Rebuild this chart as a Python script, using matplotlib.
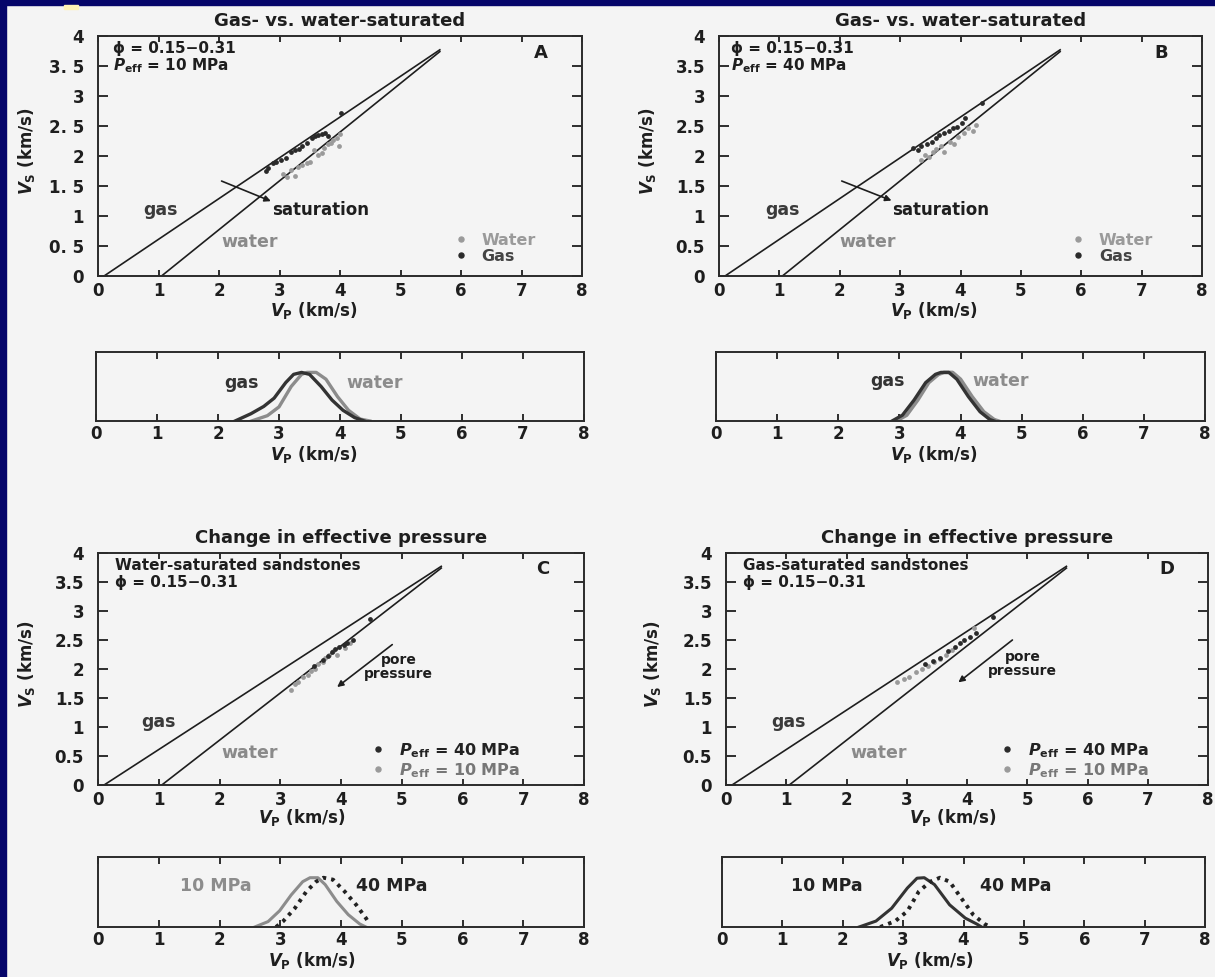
import matplotlib
matplotlib.use("Agg")
import matplotlib.pyplot as plt
from matplotlib.lines import Line2D
from matplotlib.patches import Rectangle

plt.rcParams['font.family'] = ['DejaVu Sans']
plt.rcParams['font.weight'] = 'bold'
plt.rcParams['axes.labelweight'] = 'bold'
plt.rcParams['axes.titleweight'] = 'bold'
plt.rcParams['mathtext.fontset'] = 'custom'
plt.rcParams['mathtext.rm'] = 'DejaVu Sans:bold'
plt.rcParams['mathtext.it'] = 'DejaVu Sans:italic:bold'
plt.rcParams['mathtext.bf'] = 'DejaVu Sans:bold'

# ---------------- data ----------------
vp_ticks = [0, 1, 2, 3, 4, 5, 6, 7, 8]
vs_ticks = [0, 0.5, 1, 1.5, 2, 2.5, 3, 3.5, 4]
vs_ticklabels_spaced = ["0", "0. 5", "1", "1. 5", "2", "2. 5", "3", "3. 5", "4"]
vs_ticklabels = ["0", "0.5", "1", "1.5", "2", "2.5", "3", "3.5", "4"]

# Vp-Vs trend lines (km/s)
trend_gas_vp = [0.10, 5.65]
trend_gas_vs = [0.00, 3.77]
trend_water_vp = [1.05, 5.65]
trend_water_vs = [0.00, 3.74]

# Panel A: Peff = 10 MPa
a_water_vp = [3.05, 3.12, 3.19, 3.25, 3.30, 3.38, 3.45, 3.50, 3.57, 3.63, 3.70, 3.73, 3.80, 3.85, 3.89, 3.95, 3.98, 4.00]
a_water_vs = [1.70, 1.65, 1.77, 1.66, 1.82, 1.85, 1.88, 1.90, 2.10, 2.02, 2.05, 2.13, 2.20, 2.22, 2.27, 2.30, 2.16, 2.36]
a_gas_vp = [2.78, 2.81, 2.90, 2.95, 3.03, 3.10, 3.19, 3.25, 3.32, 3.38, 3.45, 3.54, 3.58, 3.63, 3.70, 3.76, 3.80, 4.01]
a_gas_vs = [1.75, 1.80, 1.88, 1.90, 1.93, 1.97, 2.07, 2.10, 2.12, 2.16, 2.22, 2.30, 2.33, 2.35, 2.36, 2.38, 2.33, 2.71]

# Panel B: Peff = 40 MPa
b_water_vp = [3.35, 3.41, 3.47, 3.54, 3.60, 3.67, 3.73, 3.83, 3.90, 3.96, 4.05, 4.12, 4.20, 4.25]
b_water_vs = [1.93, 2.02, 1.98, 2.07, 2.12, 2.16, 2.07, 2.24, 2.20, 2.32, 2.38, 2.46, 2.42, 2.52]
b_gas_vp = [3.22, 3.30, 3.35, 3.45, 3.52, 3.60, 3.65, 3.72, 3.81, 3.88, 3.94, 4.02, 4.07, 4.36]
b_gas_vs = [2.13, 2.10, 2.16, 2.20, 2.24, 2.30, 2.35, 2.38, 2.41, 2.46, 2.49, 2.55, 2.63, 2.88]

# Panel C: water-saturated sandstones
c_p40_vp = [3.55, 3.70, 3.78, 3.85, 3.90, 3.97, 4.05, 4.10, 4.19, 4.47]
c_p40_vs = [2.05, 2.15, 2.22, 2.30, 2.34, 2.38, 2.42, 2.45, 2.50, 2.87]
c_p10_vp = [3.18, 3.24, 3.30, 3.37, 3.45, 3.50, 3.58, 3.62, 3.70, 3.74, 3.80, 3.87, 3.93, 4.06, 4.15]
c_p10_vs = [1.63, 1.74, 1.78, 1.86, 1.90, 1.97, 2.00, 2.08, 2.12, 2.19, 2.25, 2.31, 2.25, 2.36, 2.45]

# Panel D: gas-saturated sandstones
d_p40_vp = [3.30, 3.43, 3.56, 3.69, 3.80, 3.88, 3.95, 4.05, 4.15, 4.43]
d_p40_vs = [2.08, 2.14, 2.19, 2.31, 2.38, 2.45, 2.50, 2.55, 2.62, 2.90]
d_p10_vp = [2.84, 2.95, 3.04, 3.15, 3.25, 3.36, 3.45, 3.55, 3.65, 3.75, 4.11]
d_p10_vs = [1.77, 1.82, 1.86, 1.94, 2.00, 2.06, 2.12, 2.18, 2.25, 2.32, 2.70]

# Vp probability densities (relative frequency)
pdf_a_gas_vp = [2.28, 2.54, 2.75, 2.92, 3.11, 3.24, 3.37, 3.50, 3.69, 3.87, 4.05, 4.24, 4.40]
pdf_a_gas_f = [0.00, 0.15, 0.30, 0.47, 0.79, 0.96, 1.00, 0.96, 0.71, 0.43, 0.22, 0.07, 0.00]
pdf_a_water_vp = [2.55, 2.81, 3.00, 3.20, 3.37, 3.46, 3.61, 3.77, 3.96, 4.14, 4.33, 4.49]
pdf_a_water_f = [0.00, 0.11, 0.29, 0.71, 0.96, 1.00, 1.00, 0.86, 0.50, 0.22, 0.04, 0.00]

pdf_b_gas_vp = [2.88, 3.05, 3.24, 3.43, 3.59, 3.68, 3.81, 3.94, 4.13, 4.32, 4.48, 4.55]
pdf_b_gas_f = [0.00, 0.12, 0.43, 0.79, 0.96, 1.00, 1.00, 0.86, 0.50, 0.19, 0.03, 0.00]
pdf_b_water_vp = [2.95, 3.12, 3.30, 3.48, 3.64, 3.73, 3.87, 4.00, 4.19, 4.38, 4.55, 4.62]
pdf_b_water_f = [0.00, 0.12, 0.43, 0.79, 0.96, 1.00, 1.00, 0.86, 0.50, 0.19, 0.03, 0.00]

pdf_c_p10_vp = [2.58, 2.80, 2.99, 3.18, 3.37, 3.49, 3.62, 3.74, 3.93, 4.12, 4.31, 4.41]
pdf_c_p10_f = [0.00, 0.11, 0.33, 0.65, 0.92, 1.00, 1.00, 0.86, 0.52, 0.25, 0.06, 0.00]
pdf_c_p40_vp = [2.93, 3.05, 3.24, 3.43, 3.59, 3.71, 3.87, 4.06, 4.25, 4.41, 4.47]
pdf_c_p40_f = [0.00, 0.12, 0.38, 0.72, 0.92, 1.00, 0.96, 0.72, 0.45, 0.18, 0.06]

pdf_d_p10_vp = [2.27, 2.55, 2.81, 3.07, 3.23, 3.35, 3.52, 3.77, 4.03, 4.22, 4.30]
pdf_d_p10_f = [0.00, 0.12, 0.38, 0.79, 0.99, 1.00, 0.86, 0.45, 0.18, 0.06, 0.00]
pdf_d_p40_vp = [2.62, 2.87, 3.07, 3.26, 3.45, 3.61, 3.77, 3.96, 4.16, 4.35, 4.45]
pdf_d_p40_f = [0.00, 0.12, 0.32, 0.72, 0.92, 1.00, 0.92, 0.59, 0.25, 0.06, 0.00]

# ---------------- styling ----------------
W, H = 1215, 977
ink = '#1e1e1e'
dark = '#2a2a2a'
light = '#9a9a9a'

fig = plt.figure(figsize=(W / 100, H / 100), dpi=100, facecolor='#f4f4f4')

# slide frame
fig.patches.append(Rectangle((0, 0), 6 / W, 1, transform=fig.transFigure, color='#05056a', zorder=10))
fig.patches.append(Rectangle((0, 1 - 5 / H), 1, 5 / H, transform=fig.transFigure, color='#05056a', zorder=10))
fig.patches.append(Rectangle((64 / W, 1 - 9 / H), 14 / W, 4 / H, transform=fig.transFigure, color='#fff3b5', zorder=11))


def px_axes(left, top, right, bottom):
    return fig.add_axes([left / W, 1 - bottom / H, (right - left) / W, (bottom - top) / H])


def style_spines(ax):
    for s in ax.spines.values():
        s.set_linewidth(1.4)
        s.set_color('#2b2b2b')


def main_panel(rect, title, ylabels, letter, xlab_x, xlab_y, ylab_x):
    ax = px_axes(*rect)
    ax.set_facecolor('none')
    ax.set_xlim(0, 8)
    ax.set_ylim(0, 4)
    ax.set_xticks(vp_ticks)
    ax.set_yticks(vs_ticks)
    ax.set_yticklabels(ylabels)
    ax.tick_params(axis='both', direction='in', top=True, right=True, colors=ink,
                   labelsize=12, width=1.3)
    ax.tick_params(axis='x', length=4.5, pad=4)
    ax.tick_params(axis='y', length=7.5, pad=10)
    style_spines(ax)
    ax.set_title(title, fontsize=13, fontweight='bold', pad=7, color=ink)
    ax.set_xlabel(r'$V_{\rm P}$ (km/s)', fontsize=12, fontweight='bold', color=ink)
    ax.xaxis.set_label_coords(xlab_x, xlab_y)
    ax.set_ylabel(r'$V_{\rm S}$ (km/s)', fontsize=12, fontweight='bold', color=ink)
    ax.yaxis.set_label_coords(ylab_x, 0.52)
    ax.plot(trend_gas_vp, trend_gas_vs, color=ink, lw=1.2, zorder=2)
    ax.plot(trend_water_vp, trend_water_vs, color=ink, lw=1.2, zorder=2)
    ax.text(7.32, 3.72, letter, ha='center', va='center', fontsize=13, color=ink)
    return ax


def dot_legend(ax, labels, colors, text_colors, x_frac, y_frac):
    handles = [Line2D([], [], ls='', marker='o', ms=3.6, color=c) for c in colors]
    leg = ax.legend(handles, labels, loc='center left', bbox_to_anchor=(x_frac, y_frac),
                    frameon=False, fontsize=11.5, handlelength=1.0, handletextpad=0.8,
                    borderpad=0, borderaxespad=0, labelspacing=0.08)
    for t, c in zip(leg.get_texts(), text_colors):
        t.set_color(c)
        t.set_fontweight('bold')
    return leg


def pdf_panel(rect, xlab_x, xlab_y):
    ax = px_axes(*rect)
    ax.set_facecolor('none')
    ax.set_xlim(0, 8)
    ax.set_ylim(0, 1.42)
    ax.set_xticks(vp_ticks)
    ax.set_yticks([])
    ax.tick_params(axis='x', direction='in', top=True, length=5, width=1.3, pad=3,
                   labelsize=12, colors=ink)
    style_spines(ax)
    ax.set_xlabel(r'$V_{\rm P}$ (km/s)', fontsize=12, fontweight='bold', color=ink)
    ax.xaxis.set_label_coords(xlab_x, xlab_y)
    return ax


dotted = (0, (0.9, 1.3))

# ---------------- Panel A ----------------
ax = main_panel((98, 36, 582, 276), 'Gas- vs. water-saturated', vs_ticklabels_spaced, 'A',
                0.445, -0.10, -0.126)
ax.scatter(a_water_vp, a_water_vs, s=12, color=light, zorder=3, linewidths=0)
ax.scatter(a_gas_vp, a_gas_vs, s=12, color=dark, zorder=4, linewidths=0)
ax.text(0.25, 3.80, 'ϕ = 0.15−0.31', fontsize=11, va='center', color=ink)
ax.text(0.25, 3.50, r'$P_{\rm eff}$ = 10 MPa', fontsize=11, va='center', color=ink)
ax.text(0.75, 1.1, 'gas', fontsize=12.5, va='center', color='#3a3a3a')
ax.text(2.04, 0.57, 'water', fontsize=12.5, va='center', color='#8a8a8a')
ax.text(2.87, 1.1, 'saturation', fontsize=12, va='center', color=ink)
ax.annotate('', xy=(2.9, 1.23), xytext=(2.0, 1.6),
            arrowprops=dict(arrowstyle='-|>', lw=1.2, color=ink, mutation_scale=9))
dot_legend(ax, ['Water', 'Gas'], [light, dark], ['#9a9a9a', '#444444'], 0.733, 0.115)

# ---------------- Panel B ----------------
ax = main_panel((719, 36, 1202, 276), 'Gas- vs. water-saturated', vs_ticklabels, 'B',
                0.445, -0.10, -0.126)
ax.scatter(b_water_vp, b_water_vs, s=12, color=light, zorder=3, linewidths=0)
ax.scatter(b_gas_vp, b_gas_vs, s=12, color=dark, zorder=4, linewidths=0)
ax.text(0.2, 3.80, 'ϕ = 0.15−0.31', fontsize=11, va='center', color=ink)
ax.text(0.2, 3.50, r'$P_{\rm eff}$ = 40 MPa', fontsize=11, va='center', color=ink)
ax.text(0.76, 1.1, 'gas', fontsize=12.5, va='center', color='#3a3a3a')
ax.text(1.99, 0.57, 'water', fontsize=12.5, va='center', color='#8a8a8a')
ax.text(2.86, 1.1, 'saturation', fontsize=12, va='center', color=ink)
ax.annotate('', xy=(2.9, 1.24), xytext=(1.99, 1.6),
            arrowprops=dict(arrowstyle='-|>', lw=1.2, color=ink, mutation_scale=9))
dot_legend(ax, ['Water', 'Gas'], [light, dark], ['#9a9a9a', '#444444'], 0.727, 0.115)

# ---------------- distributions A / B ----------------
sa = pdf_panel((96, 352, 584, 421), 0.446, -0.34)
sa.plot(pdf_a_water_vp, pdf_a_water_f, color='#8c8c8c', lw=2.4)
sa.plot(pdf_a_gas_vp, pdf_a_gas_f, color='#333333', lw=2.4)
sa.text(2.1, 0.79, 'gas', fontsize=12.5, va='center', color='#333333')
sa.text(4.11, 0.79, 'water', fontsize=12.5, va='center', color='#8c8c8c')

sb = pdf_panel((716, 352, 1205, 421), 0.445, -0.34)
sb.plot(pdf_b_water_vp, pdf_b_water_f, color='#8c8c8c', lw=2.6)
sb.plot(pdf_b_gas_vp, pdf_b_gas_f, color='#333333', lw=2.4)
sb.text(2.53, 0.82, 'gas', fontsize=12.5, va='center', color='#333333')
sb.text(4.19, 0.82, 'water', fontsize=12.5, va='center', color='#8c8c8c')

# ---------------- Panel C ----------------
ax = main_panel((98, 553, 584, 785), 'Change in effective pressure', vs_ticklabels, 'C',
                0.42, -0.095, -0.126)
ax.scatter(c_p10_vp, c_p10_vs, s=12, color=light, zorder=3, linewidths=0)
ax.scatter(c_p40_vp, c_p40_vs, s=12, color=dark, zorder=4, linewidths=0)
ax.text(0.28, 3.78, 'Water-saturated sandstones', fontsize=11, va='center', color=ink)
ax.text(0.28, 3.50, 'ϕ = 0.15−0.31', fontsize=11, va='center', color=ink)
ax.text(0.72, 1.08, 'gas', fontsize=12.5, va='center', color='#3a3a3a')
ax.text(2.03, 0.56, 'water', fontsize=12.5, va='center', color='#8a8a8a')
ax.text(4.95, 2.04, 'pore\npressure', fontsize=10, va='center', ha='center',
        multialignment='center', color=ink, linespacing=1.0)
ax.annotate('', xy=(3.9, 1.66), xytext=(4.88, 2.45),
            arrowprops=dict(arrowstyle='-|>', lw=1.2, color=ink, mutation_scale=9))
dot_legend(ax, [r'$P_{\rm eff}$ = 40 MPa', r'$P_{\rm eff}$ = 10 MPa'], [dark, light],
           ['#222222', '#777777'], 0.56, 0.106)

# ---------------- Panel D ----------------
ax = main_panel((726, 553, 1208, 785), 'Change in effective pressure', vs_ticklabels, 'D',
                0.47, -0.095, -0.13)
ax.scatter(d_p10_vp, d_p10_vs, s=12, color=light, zorder=3, linewidths=0)
ax.scatter(d_p40_vp, d_p40_vs, s=12, color=dark, zorder=4, linewidths=0)
ax.text(0.28, 3.78, 'Gas-saturated sandstones', fontsize=11, va='center', color=ink)
ax.text(0.28, 3.50, 'ϕ = 0.15−0.31', fontsize=11, va='center', color=ink)
ax.text(0.75, 1.08, 'gas', fontsize=12.5, va='center', color='#3a3a3a')
ax.text(2.07, 0.56, 'water', fontsize=12.5, va='center', color='#8a8a8a')
ax.text(4.92, 2.08, 'pore\npressure', fontsize=10, va='center', ha='center',
        multialignment='center', color=ink, linespacing=1.0)
ax.annotate('', xy=(3.82, 1.74), xytext=(4.79, 2.53),
            arrowprops=dict(arrowstyle='-|>', lw=1.2, color=ink, mutation_scale=9))
dot_legend(ax, [r'$P_{\rm eff}$ = 40 MPa', r'$P_{\rm eff}$ = 10 MPa'], [dark, light],
           ['#222222', '#777777'], 0.566, 0.106)

# ---------------- distributions C / D ----------------
sc = pdf_panel((98, 857, 584, 927), 0.44, -0.33)
sc.plot(pdf_c_p10_vp, pdf_c_p10_f, color='#8c8c8c', lw=2.2)
sc.plot(pdf_c_p40_vp, pdf_c_p40_f, color='#222222', lw=2.8, ls=dotted)
sc.text(1.35, 0.83, '10 MPa', fontsize=12.5, va='center', color='#8c8c8c')
sc.text(4.25, 0.83, '40 MPa', fontsize=12.5, va='center', color='#222222')

sd = pdf_panel((722, 857, 1205, 927), 0.43, -0.33)
sd.plot(pdf_d_p10_vp, pdf_d_p10_f, color='#333333', lw=2.2)
sd.plot(pdf_d_p40_vp, pdf_d_p40_f, color='#222222', lw=2.8, ls=dotted)
sd.text(1.14, 0.83, '10 MPa', fontsize=12.5, va='center', color='#222222')
sd.text(4.28, 0.83, '40 MPa', fontsize=12.5, va='center', color='#222222')

fig.savefig('out.png', dpi=100, facecolor=fig.get_facecolor())
